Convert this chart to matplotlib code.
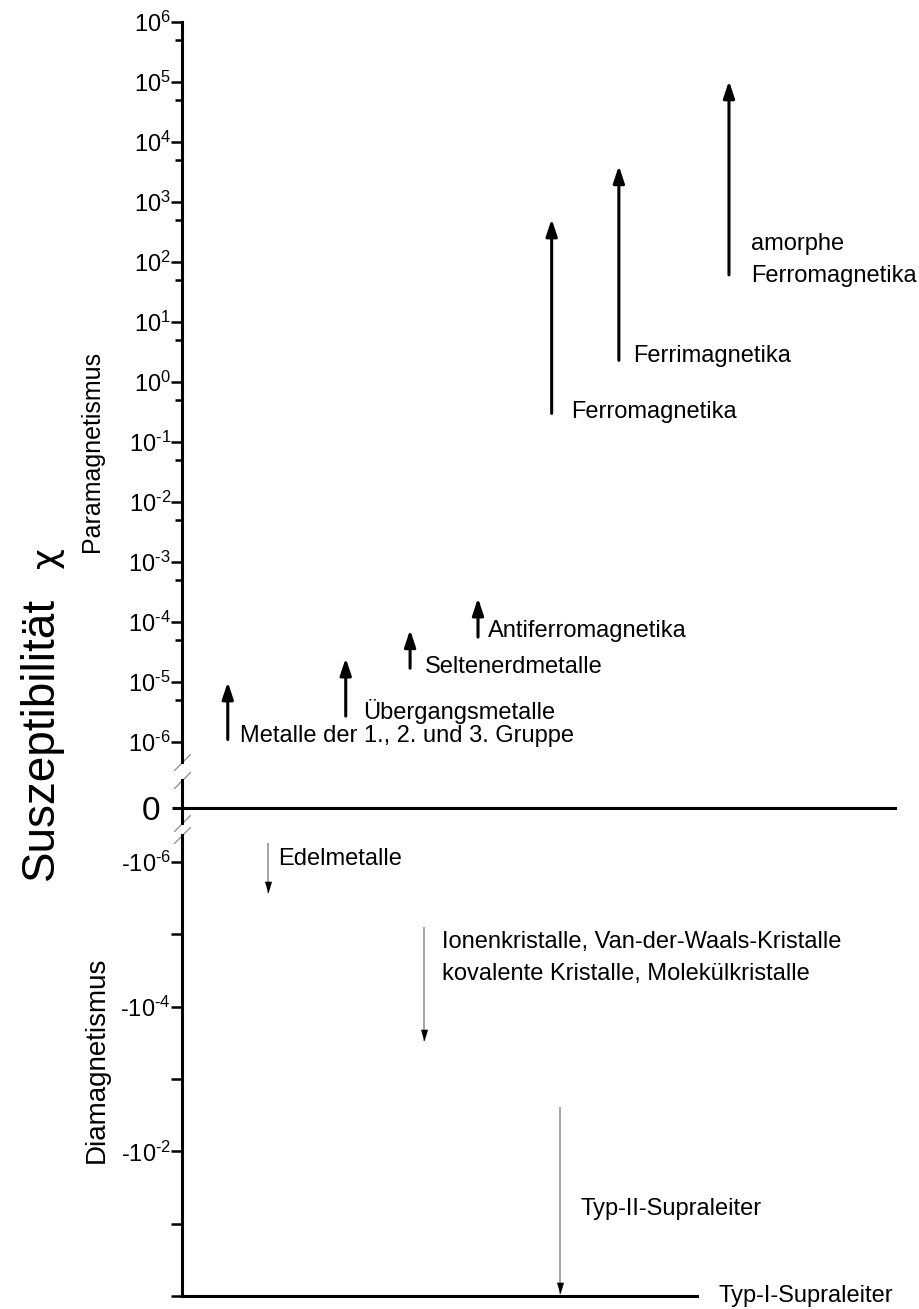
import matplotlib
matplotlib.use('Agg')
import matplotlib.pyplot as plt

plt.rcParams['font.family'] = ['Liberation Sans', 'DejaVu Sans']
plt.rcParams['mathtext.fontset'] = 'custom'
plt.rcParams['mathtext.rm'] = 'Liberation Sans'
plt.rcParams['mathtext.it'] = 'Liberation Sans:italic'

# paramagnetic classes: column position, chi range (start, end), label anchor
para_names = ['Metalle der 1., 2. und 3. Gruppe', 'Übergangsmetalle', 'Seltenerdmetalle',
              'Antiferromagnetika', 'Ferromagnetika', 'Ferrimagnetika',
              'amorphe\nFerromagnetika']
para_x = [6.4, 22.9, 31.9, 41.4, 51.7, 61.1, 76.5]
para_low = [1.1e-6, 2.7e-6, 1.7e-5, 5.6e-5, 0.30, 2.3, 61]
para_high = [1.0e-5, 2.5e-5, 7.4e-5, 2.5e-4, 520, 4000, 1.04e5]
para_label_x = [8.1, 25.3, 34.0, 42.8, 54.4, 63.1, 79.6]
para_label_y = [1.0e-6, 2.4e-6, 1.41e-5, 5.6e-5, 0.25, 2.15, 46]

# diamagnetic classes, values are |chi| (chi itself is negative)
dia_names = ['Edelmetalle',
             'Ionenkristalle, Van-der-Waals-Kristalle\nkovalente Kristalle, Molekülkristalle',
             'Typ-II-Supraleiter']
dia_x = [12.0, 33.8, 52.9]
dia_low = [5.5e-7, 7.9e-6, 2.45e-3]
dia_high = [2.7e-6, 3.0e-4, 0.95]
dia_label_x = [13.4, 36.4, 55.7]
dia_label_y = [1.1e-6, 4.3e-5, 0.076]

para_exp = list(range(-6, 7))
para_ticks = [10.0 ** k for k in para_exp]
para_minor = [5 * 10.0 ** k for k in range(-6, 6)]
dia_ticks = [1e-6, 1e-5, 1e-4, 1e-3, 1e-2, 1e-1, 1e0]
dia_labeled = [-6, -4, -2]


def power_label(k, sign=''):
    exp = str(k).replace('-', r'\text{-}')
    return r'$\mathregular{%s10^{%s}}$' % (sign, exp)


W, H = 919, 1309
fig = plt.figure(figsize=(W / 100, H / 100), dpi=100)


def box(top, bottom):
    return [182 / W, 1 - bottom / H, 715 / W, (bottom - top) / H]


ax_top = fig.add_axes(box(22, 762))
ax_mid = fig.add_axes(box(780, 823))
ax_low = fig.add_axes(box(835, 1296))

for ax in (ax_top, ax_mid, ax_low):
    ax.set_xlim(0, 100)
    ax.set_xticks([])
    for s in ('top', 'right', 'bottom'):
        ax.spines[s].set_visible(False)
    ax.spines['left'].set_linewidth(2.2)
    ax.patch.set_alpha(0)

# upper part: paramagnetism on a log scale
ax_top.set_yscale('log')
ax_top.set_ylim(10 ** -6.333, 1e6)
ax_top.set_yticks(para_ticks)
ax_top.set_yticklabels([power_label(k) for k in para_exp])
ax_top.set_yticks(para_minor, minor=True)
ax_top.set_yticklabels([], minor=True)
ax_top.tick_params(axis='y', which='major', length=8, width=1.8, labelsize=17, pad=0)
ax_top.tick_params(axis='y', which='minor', length=5, width=1.8)

for x, lo, hi in zip(para_x, para_low, para_high):
    ax_top.annotate('', xy=(x, hi), xytext=(x, lo),
                    arrowprops=dict(arrowstyle='-|>,head_length=0.42,head_width=0.14',
                                    mutation_scale=24, lw=2.2, color='black',
                                    shrinkA=0, shrinkB=0))
for name, x, y in zip(para_names, para_label_x, para_label_y):
    ax_top.text(x, y, name, fontsize=17, va='baseline', ha='left', linespacing=1.6)

# zero line
ax_mid.set_ylim(-0.35, 0.65)
ax_mid.axhline(0, color='black', lw=2.2)
ax_mid.set_yticks([0])
ax_mid.set_yticklabels(['0'])
ax_mid.tick_params(axis='y', length=7, width=2.2, labelsize=24, pad=9)

# lower part: diamagnetism, |chi| growing downwards
ax_low.set_yscale('log')
ax_low.set_ylim(1.0, 10 ** -6.373)
ax_low.set_yticks(dia_ticks)
ax_low.set_yticklabels([power_label(round(np_), '\\text{-}') if round(np_) in dia_labeled else ''
                        for np_ in [-6, -5, -4, -3, -2, -1, 0]])
ax_low.minorticks_off()
ax_low.tick_params(axis='y', length=8, width=1.8, labelsize=17, pad=0)
ax_low.spines['bottom'].set_visible(True)
ax_low.spines['bottom'].set_linewidth(2.2)
ax_low.spines['bottom'].set_bounds(0, 72)

head = [(-0.3, 1), (0.3, 1), (0, 0)]
for x, lo, hi in zip(dia_x, dia_low, dia_high):
    ax_low.plot([x, x], [lo, hi], color='#8c8c8c', lw=1.1, solid_capstyle='butt')
    ax_low.plot([x], [hi], marker=head, ms=17, color='black', mew=0, clip_on=False)
for name, x, y in zip(dia_names, dia_label_x, dia_label_y):
    ax_low.text(x, y, name, fontsize=17, va='baseline', ha='left', linespacing=1.6)
ax_low.text(75.1, 1.0, 'Typ-I-Supraleiter', fontsize=17, va='center', ha='left',
            clip_on=False)

# axis break marks
slash = [(-1, -1), (1, 1)]
for ax, yy in ((ax_top, 0.0), (ax_mid, 1.0), (ax_mid, 0.0), (ax_low, 1.0)):
    ax.plot([0], [yy], transform=ax.transAxes, marker=slash, ms=12, mew=0.9,
            color='0.55', clip_on=False)

fig.text(41 / W, 1 - 738 / H, 'Suszeptibilität', rotation=90, fontsize=33,
         ha='center', va='center')
fig.text(47 / W, 1 - 558 / H, 'χ', rotation=90, fontsize=26, ha='center', va='center',
         family=['DejaVu Sans'])
fig.text(92 / W, 1 - 451 / H, 'Paramagnetismus', rotation=90, fontsize=18,
         ha='center', va='center')
fig.text(97 / W, 1 - 1060 / H, 'Diamagnetismus', rotation=90, fontsize=20,
         ha='center', va='center')

fig.savefig('out.png', dpi=100, facecolor='white')
